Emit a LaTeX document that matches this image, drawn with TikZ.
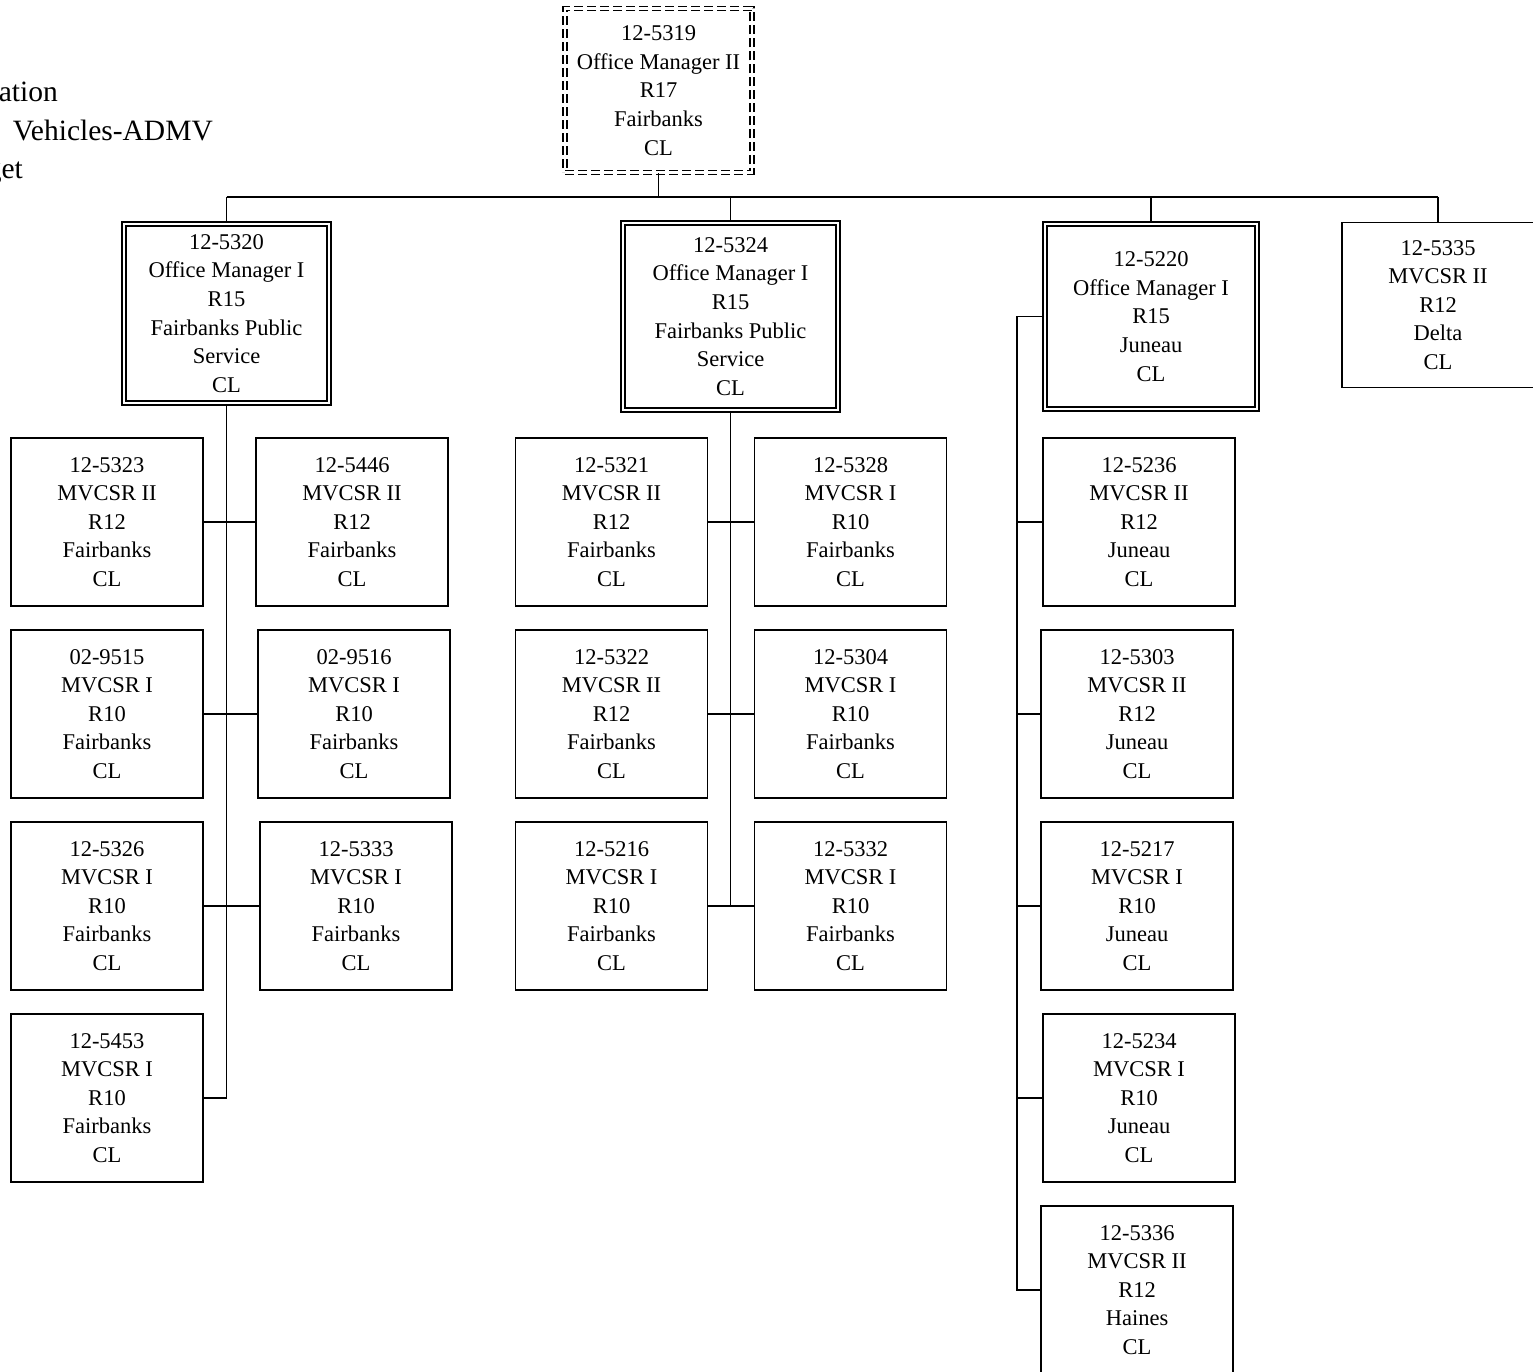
\documentclass[tikz,border=0pt]{standalone}
\usepackage{fontspec}
\setmainfont{Liberation Serif}
\begin{document}
\begin{tikzpicture}[x=1pt,y=-1pt,
  every node/.style={inner sep=0pt},
  boxtext/.style={font=\fontsize{22.5}{28.6}\selectfont, align=center},
  posbox/.style={boxtext, draw, line width=1.9pt, minimum width=192pt, minimum height=168pt},
  mgrbox/.style={boxtext, draw, line width=1.6pt, double, double distance=2pt},
  topbox/.style={boxtext, draw, line width=1.6pt, double, double distance=2.2pt, dash pattern=on 9pt off 4pt},
  conn/.style={line width=1.9pt},
  hdr/.style={font=\fontsize{29.5}{38}\selectfont, anchor=base east}
]
\useasboundingbox (0,0) rectangle (1533,1372);

% header fragments (clipped at the left edge)
\node[hdr] (h1) at (58,102) {ation};
\node[hdr] (h2) at (213,141) {Vehicles-ADMV};
\node[hdr] (h3) at (23,179) {get};

% top
\node[topbox, minimum width=187pt, minimum height=164pt] (top) at (658.5,90.5)
  {12-5319\\Office Manager II\\R17\\Fairbanks\\CL};

% managers
\node[mgrbox, minimum width=205pt, minimum height=179pt] (b5320) at (226.5,313.5)
  {12-5320\\Office Manager I\\R15\\Fairbanks Public\\Service\\CL};
\node[mgrbox, minimum width=215pt, minimum height=187pt] (b5324) at (730.5,316.5)
  {12-5324\\Office Manager I\\R15\\Fairbanks Public\\Service\\CL};
\node[mgrbox, minimum width=212pt, minimum height=185pt] (b5220) at (1151,316.5)
  {12-5220\\Office Manager I\\R15\\Juneau\\CL};
\node[posbox, minimum height=165pt] (b5335) at (1438,305)
  {12-5335\\MVCSR II\\R12\\Delta\\CL};

% left group
\node[posbox] (b5323) at (107,522) {12-5323\\MVCSR II\\R12\\Fairbanks\\CL};
\node[posbox] (b5446) at (352,522) {12-5446\\MVCSR II\\R12\\Fairbanks\\CL};
\node[posbox] (b9515) at (107,714) {02-9515\\MVCSR I\\R10\\Fairbanks\\CL};
\node[posbox] (b9516) at (354,714) {02-9516\\MVCSR I\\R10\\Fairbanks\\CL};
\node[posbox] (b5326) at (107,906) {12-5326\\MVCSR I\\R10\\Fairbanks\\CL};
\node[posbox] (b5333) at (356,906) {12-5333\\MVCSR I\\R10\\Fairbanks\\CL};
\node[posbox] (b5453) at (107,1098) {12-5453\\MVCSR I\\R10\\Fairbanks\\CL};

% middle group
\node[posbox] (b5321) at (611.5,522) {12-5321\\MVCSR II\\R12\\Fairbanks\\CL};
\node[posbox] (b5328) at (850.5,522) {12-5328\\MVCSR I\\R10\\Fairbanks\\CL};
\node[posbox] (b5322) at (611.5,714) {12-5322\\MVCSR II\\R12\\Fairbanks\\CL};
\node[posbox] (b5304) at (850.5,714) {12-5304\\MVCSR I\\R10\\Fairbanks\\CL};
\node[posbox] (b5216) at (611.5,906) {12-5216\\MVCSR I\\R10\\Fairbanks\\CL};
\node[posbox] (b5332) at (850.5,906) {12-5332\\MVCSR I\\R10\\Fairbanks\\CL};

% right group
\node[posbox] (b5236) at (1139,522) {12-5236\\MVCSR II\\R12\\Juneau\\CL};
\node[posbox] (b5303) at (1137,714) {12-5303\\MVCSR II\\R12\\Juneau\\CL};
\node[posbox] (b5217) at (1137,906) {12-5217\\MVCSR I\\R10\\Juneau\\CL};
\node[posbox] (b5234) at (1139,1098) {12-5234\\MVCSR I\\R10\\Juneau\\CL};
\node[posbox] (b5336) at (1137,1290) {12-5336\\MVCSR II\\R12\\Haines\\CL};

% connectors: top bus
\coordinate (bus) at (0,197);
\draw[conn] (top.south) -- (top.south |- bus);
\draw[conn] (b5320.north |- bus) -- (b5335.north |- bus);
\draw[conn] (b5320.north |- bus) -- (b5320.north);
\draw[conn] (b5324.north |- bus) -- (b5324.north);
\draw[conn] (b5220.north |- bus) -- (b5220.north);
\draw[conn] (b5335.north |- bus) -- (b5335.north);

% left group connectors
\draw[conn] (b5320.south) -- (b5320.south |- b5453.east) -- (b5453.east);
\draw[conn] (b5323.east) -- (b5446.west);
\draw[conn] (b9515.east) -- (b9516.west);
\draw[conn] (b5326.east) -- (b5333.west);

% middle group connectors
\draw[conn] (b5324.south) -- (b5324.south |- b5216.east);
\draw[conn] (b5321.east) -- (b5328.west);
\draw[conn] (b5322.east) -- (b5304.west);
\draw[conn] (b5216.east) -- (b5332.west);

% right group connectors
\coordinate (rj) at (1017,316.5);
\draw[conn] (b5220.west) -- (rj) -- (rj |- b5336.west) -- (b5336.west);
\draw[conn] (rj |- b5236.west) -- (b5236.west);
\draw[conn] (rj |- b5303.west) -- (b5303.west);
\draw[conn] (rj |- b5217.west) -- (b5217.west);
\draw[conn] (rj |- b5234.west) -- (b5234.west);
\end{tikzpicture}
\end{document}
